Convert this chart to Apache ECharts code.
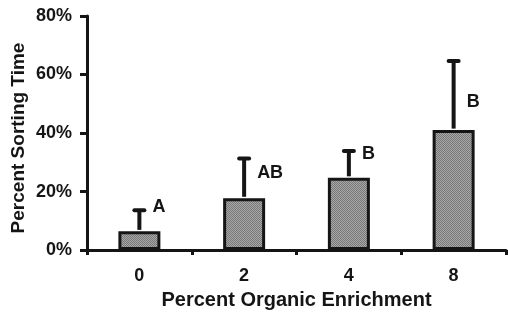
<!DOCTYPE html>
<html>
<head>
<meta charset="utf-8">
<script src="https://cdn.jsdelivr.net/npm/echarts@6/dist/echarts.min.js"></script>
<style>
html,body{margin:0;padding:0;background:#fff;}
#chart{width:508px;height:315px;}
</style>
</head>
<body>
<div id="chart"></div>
<script>
// ---- data ----
var categories = ['0', '2', '4', '8'];
var meanValues = [6.4, 17.7, 24.7, 41.0];
var upperValues = [13.6, 31.3, 33.9, 64.6];
var groupLetters = ['A', 'AB', 'B', 'B'];
var letterValues = [14.8, 26.4, 32.9, 50.7];
var yTicks = [0, 20, 40, 60, 80];
var xTitle = 'Percent Organic Enrichment';
var yTitle = 'Percent Sorting Time';

var FONT = '"Liberation Sans", Arial, Helvetica, sans-serif';
var INK = '#151515';

// dithered gray fill
var pat = document.createElement('canvas');
pat.width = 2; pat.height = 2;
var pc = pat.getContext('2d');
pc.fillStyle = '#a8a8a8'; pc.fillRect(0, 0, 2, 2);
pc.fillStyle = '#787878'; pc.fillRect(0, 0, 1, 1); pc.fillRect(1, 1, 1, 1);

var chart = echarts.init(document.getElementById('chart'), null, {renderer: 'canvas'});

var errData = categories.map(function (c, i) { return [i, meanValues[i], upperValues[i]]; });
var letterData = categories.map(function (c, i) { return [i, letterValues[i], groupLetters[i]]; });

chart.setOption({
  animation: false,
  grid: {left: 87, right: 2, top: 16, bottom: 62, containLabel: false},
  graphic: [{
    type: 'text',
    x: 19, y: 138,
    rotation: Math.PI / 2,
    style: {text: yTitle, fill: INK, font: 'bold 19px ' + FONT, textAlign: 'center', textVerticalAlign: 'middle'}
  }],
  xAxis: {
    type: 'category',
    data: categories,
    boundaryGap: true,
    axisLine: {show: true, lineStyle: {color: INK, width: 3}},
    axisTick: {show: true, alignWithLabel: false, length: 5, lineStyle: {color: INK, width: 3}},
    axisLabel: {color: INK, fontFamily: FONT, fontWeight: 'bold', fontSize: 18, margin: 17},
    splitLine: {show: false},
    name: xTitle,
    nameLocation: 'middle',
    nameGap: 37,
    nameTextStyle: {color: INK, fontFamily: FONT, fontWeight: 'bold', fontSize: 20}
  },
  yAxis: {
    type: 'value',
    min: yTicks[0],
    max: yTicks[yTicks.length - 1],
    interval: 20,
    axisLine: {show: true, lineStyle: {color: INK, width: 3}},
    axisTick: {show: true, length: 7, lineStyle: {color: INK, width: 3}},
    axisLabel: {color: INK, fontFamily: FONT, fontWeight: 'bold', fontSize: 18, margin: 15,
      formatter: function (v) { return v + '%'; }},
    splitLine: {show: false}
  },
  series: [
    {
      type: 'bar',
      data: meanValues,
      barWidth: 42,
      itemStyle: {color: {image: pat, repeat: 'repeat'}, borderColor: INK, borderWidth: 3},
      z: 2
    },
    {
      type: 'custom',
      data: errData,
      z: 3,
      renderItem: function (params, api) {
        var x = api.value(0);
        var top = api.coord([x, api.value(1)]);
        var up = api.coord([x, api.value(2)]);
        var cap = 5;
        return {
          type: 'group',
          children: [
            {type: 'line', shape: {x1: top[0], y1: top[1] - 1.5, x2: up[0], y2: up[1]},
             style: {stroke: INK, lineWidth: 4}},
            {type: 'line', shape: {x1: up[0] - cap, y1: up[1], x2: up[0] + cap, y2: up[1]},
             style: {stroke: INK, lineWidth: 4, lineCap: 'round'}}
          ]
        };
      }
    },
    {
      type: 'custom',
      data: letterData,
      z: 4,
      renderItem: function (params, api) {
        var x = api.value(0);
        var p = api.coord([x, api.value(1)]);
        return {
          type: 'text',
          x: p[0] + 13, y: p[1],
          style: {text: groupLetters[params.dataIndex], fill: INK, font: 'bold 18px ' + FONT,
                  textAlign: 'left', textVerticalAlign: 'middle'}
        };
      }
    }
  ]
});
</script>
</body>
</html>
